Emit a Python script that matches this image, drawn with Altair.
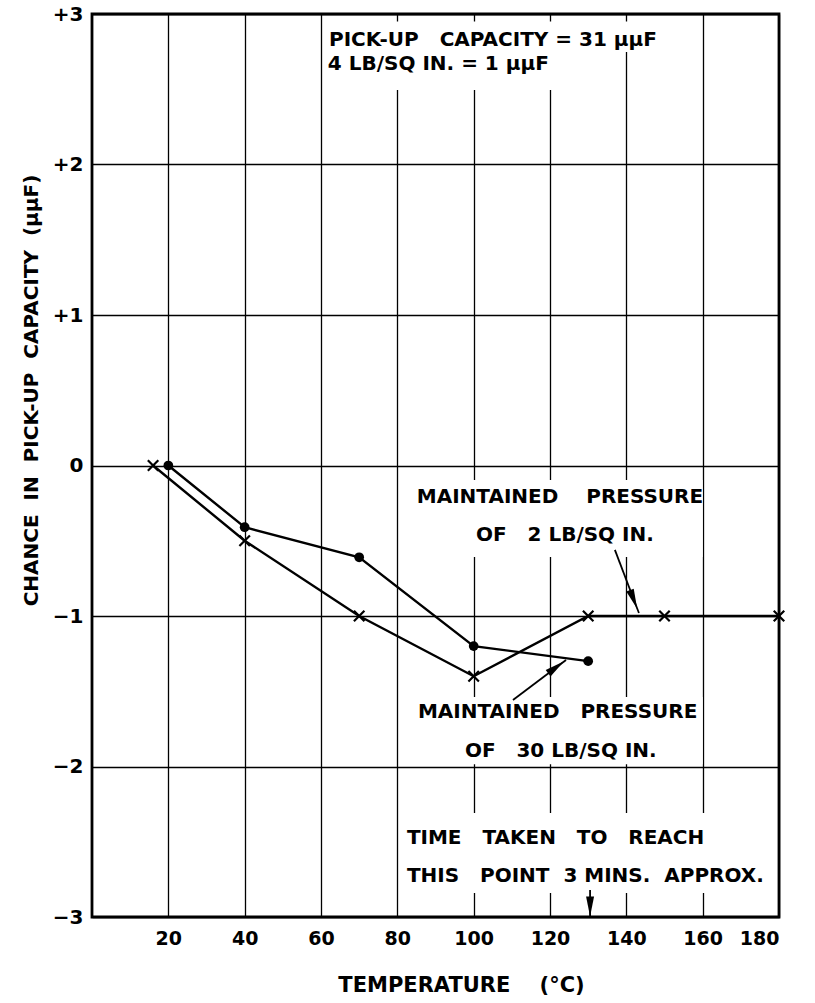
import altair as alt
import pandas as pd

# ---------------- data ----------------
cross_temp = [16, 40, 70, 100, 130, 150, 180]
cross_change = [0.0, -0.5, -1.0, -1.4, -1.0, -1.0, -1.0]

circ_temp = [20, 40, 70, 100, 130]
circ_change = [0.0, -0.41, -0.61, -1.2, -1.3]

x_ticks = [20, 40, 60, 80, 100, 120, 140, 160, 180]
y_ticks = [-3, -2, -1, 0, 1, 2, 3]

NB = "\u00a0"
note_text = [
    "PICK-UP" + NB * 3 + "CAPACITY" + NB + "=" + NB + "31" + NB + "μμF",
    "4" + NB + "LB/SQ" + NB + "IN." + NB + "=" + NB + "1" + NB + "μμF",
    "MAINTAINED" + NB * 4 + "PRESSURE",
    "OF" + NB * 3 + "2" + NB + "LB/SQ" + NB + "IN.",
    "MAINTAINED" + NB * 3 + "PRESSURE",
    "OF" + NB * 3 + "30" + NB + "LB/SQ" + NB + "IN.",
    "TIME" + NB * 3 + "TAKEN" + NB * 3 + "TO" + NB * 3 + "REACH",
    "THIS" + NB * 3 + "POINT" + NB * 2 + "3" + NB + "MINS." + NB * 2 + "APPROX.",
]
note_x = [62.1, 61.8, 85.1, 100.6, 85.4, 97.7, 82.5, 82.5]
note_y = [2.83, 2.665, -0.21, -0.46, -1.64, -1.90, -2.475, -2.73]

# white patches where the grid is interrupted behind the lettering
box_x1 = [61, 61, 84, 84, 81]
box_x2 = [153, 122, 160, 160, 177]
box_y1 = [2.95, 2.748, -0.096, -1.538, -2.309]
box_y2 = [2.748, 2.495, -0.608, -1.985, -2.84]

# arrows (tail -> head) and arrowhead placement
arrow_x1 = [137.0, 110.3, 130.5]
arrow_y1 = [-0.561, -1.558, -2.82]
arrow_x2 = [143.3, 124.2, 130.5]
arrow_y2 = [-0.980, -1.292, -3.0]
head_x = [141.9, 121.6, 130.5]
head_y = [-0.89, -1.34, -2.93]
head_angle = [159, 53, 180]

# ---------------- tables ----------------
cross_df = pd.DataFrame({"t": cross_temp, "c": cross_change, "o": range(len(cross_temp))})
circ_df = pd.DataFrame({"t": circ_temp, "c": circ_change, "o": range(len(circ_temp))})
note_df = pd.DataFrame({"t": note_x, "c": note_y, "label": note_text})
box_df = pd.DataFrame({"t": box_x1, "t2": box_x2, "c": box_y1, "c2": box_y2})
arrow_df = pd.DataFrame({"t": arrow_x1, "c": arrow_y1, "t2": arrow_x2, "c2": arrow_y2})
head_df = pd.DataFrame({"t": head_x, "c": head_y, "a": head_angle})

FONT = "DejaVu Sans"

x_axis = alt.Axis(
    values=x_ticks, grid=True, domain=False, ticks=False,
    labelFontSize=19, labelFontWeight="bold", labelPadding=12, labelColor="black", labelFont=FONT,
    title="TEMPERATURE" + NB * 4 + "(°C)", titleFontSize=21, titleFont=FONT,
    titleFontWeight="bold", titleColor="black",
    titleX=369, titleY=68, titleBaseline="middle", titleAlign="center",
)
y_axis = alt.Axis(
    values=y_ticks, grid=True, domain=False, ticks=False,
    labelExpr="datum.value > 0 ? '+' + datum.value : (datum.value == 0 ? '0' : datum.label)",
    labelFontSize=20, labelFontWeight="bold", labelPadding=9, labelColor="black", labelFont=FONT,
    title="CHANCE" + NB * 2 + "IN" + NB * 2 + "PICK-UP" + NB * 2 + "CAPACITY" + NB * 2 + "(μμF)",
    titleFontSize=20, titleFont=FONT, titleFontWeight="bold", titleColor="black",
    titleX=-61, titleY=376, titleAngle=270, titleBaseline="middle", titleAlign="center",
)

xs = alt.Scale(domain=[0, 180], nice=False, zero=False)
ys = alt.Scale(domain=[-3, 3], nice=False, zero=False)
X = alt.X("t:Q", scale=xs, axis=x_axis)
Y = alt.Y("c:Q", scale=ys, axis=y_axis)

boxes = alt.Chart(box_df).mark_rect(fill="white", stroke=None).encode(
    x=X, x2="t2:Q", y=Y, y2="c2:Q"
)

cross_line = alt.Chart(cross_df).mark_line(color="black", strokeWidth=2.4).encode(
    x=X, y=Y, order="o:Q"
)
circ_line = alt.Chart(circ_df).mark_line(color="black", strokeWidth=2.4).encode(
    x=X, y=Y, order="o:Q"
)
cross_pts = alt.Chart(cross_df).mark_point(
    shape="M-1,-1L1,1M-1,1L1,-1", filled=False, stroke="black", strokeWidth=2.2,
    size=110, opacity=1,
).encode(x=X, y=Y)
circ_pts = alt.Chart(circ_df).mark_point(
    shape="circle", filled=True, fill="black", size=95, opacity=1,
).encode(x=X, y=Y)

arrows = alt.Chart(arrow_df).mark_rule(color="black", strokeWidth=1.8).encode(
    x=X, y=Y, x2="t2:Q", y2="c2:Q"
)
heads = alt.Chart(head_df).mark_point(
    shape="M0,-1L0.4,1L-0.4,1Z", filled=True, fill="black", size=400, opacity=1,
).encode(x=X, y=Y, angle=alt.Angle("a:Q", scale=None))

notes = alt.Chart(note_df).mark_text(
    align="left", baseline="middle", font=FONT, fontSize=20, fontWeight="bold", color="black"
).encode(x=X, y=Y, text="label:N")

chart = alt.layer(
    boxes, cross_line, circ_line, arrows, heads, cross_pts, circ_pts, notes
).properties(
    width=687, height=903,
    padding={"left": 92, "top": 14, "right": 36, "bottom": 86},
    autosize=alt.AutoSizeParams(type="none"),
    background="white",
).configure_view(
    stroke="black", strokeWidth=2.8
).configure_axis(
    gridColor="black", gridWidth=1.3, gridOpacity=1
)

chart.save("out.html", embed_options={"renderer": "svg", "actions": False})
